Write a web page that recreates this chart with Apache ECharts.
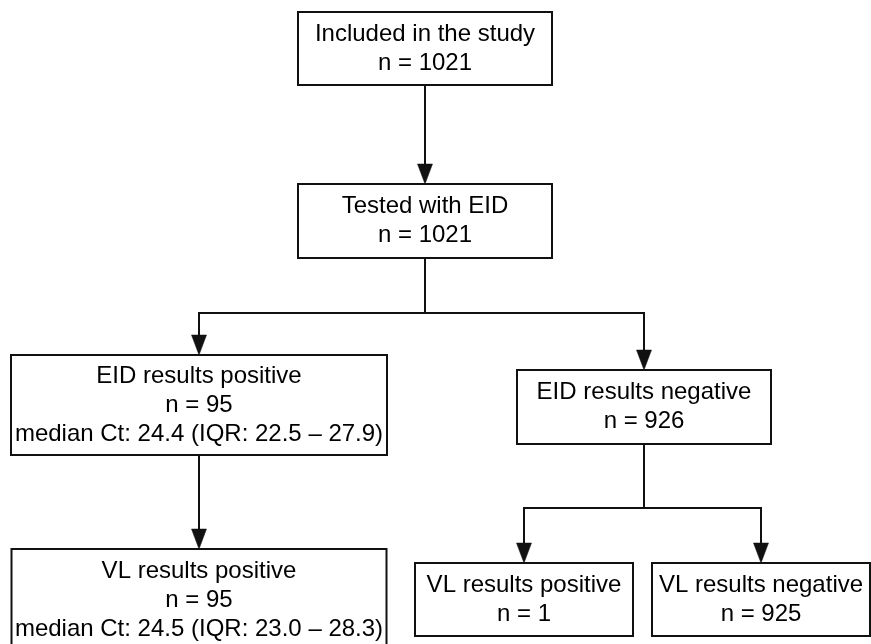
<!DOCTYPE html>
<html>
<head>
<meta charset="utf-8">
<script src="https://cdn.jsdelivr.net/npm/echarts@6/dist/echarts.min.js"></script>
<style>
  html, body { margin: 0; padding: 0; background: #ffffff; }
  #chart { width: 871px; height: 644px; }
</style>
</head>
<body>
<div id="chart"></div>
<script>
// ---- Data ----
const boxTitles = [
  'Included in the study',
  'Tested with EID',
  'EID results positive',
  'EID results negative',
  'VL results positive',
  'VL results positive',
  'VL results negative'
];
const boxCounts = [1021, 1021, 95, 926, 95, 1, 925];
const medianCt = [null, null, 24.4, null, 24.5, null, null];
const iqrLow   = [null, null, 22.5, null, 23.0, null, null];
const iqrHigh  = [null, null, 27.9, null, 28.3, null, null];
// parent -> child flow
const links = [[0, 1], [1, 2], [1, 3], [2, 4], [3, 5], [3, 6]];

// ---- Layout (diagram coordinates) ----
const boxCx  = [425, 425, 199, 644, 199, 524, 761];
const boxTop = [12, 184, 355, 370, 549, 563, 563];
const boxW   = [254, 254, 376, 254, 375, 218, 218];
const boxH   = [73, 74, 100, 74, 102, 73, 73];
const branchY = { 1: 313, 3: 508 };

const INK = '#111111';
const FONT = '24px "Liberation Sans", Arial, sans-serif';
const LINE_H = 29;

function boxLines(i) {
  const lines = [boxTitles[i], 'n = ' + boxCounts[i]];
  if (medianCt[i] != null) {
    lines.push('median Ct: ' + medianCt[i].toFixed(1) + ' (IQR: ' +
      iqrLow[i].toFixed(1) + ' \u2013 ' + iqrHigh[i].toFixed(1) + ')');
  }
  return lines;
}

const chart = echarts.init(document.getElementById('chart'), null, { renderer: 'canvas' });

const option = {
  backgroundColor: '#ffffff',
  animation: false,
  grid: { left: 0, right: 0, top: 0, bottom: 0 },
  xAxis: { type: 'value', min: 0, max: 871, show: false },
  yAxis: { type: 'value', min: 0, max: 644, inverse: true, show: false },
  series: [
    {
      type: 'custom',
      name: 'connectors',
      clip: false,
      data: links.map((l, k) => [boxCx[l[1]], boxTop[l[1]], k]),
      renderItem: function (params, api) {
        const k = api.value(2);
        const p = links[k][0], c = links[k][1];
        const pBottom = boxTop[p] + boxH[p];
        const by = branchY[p] != null ? branchY[p] : null;
        const children = [];
        let pts;
        if (by != null) {
          pts = [api.coord([boxCx[p], pBottom]), api.coord([boxCx[p], by]),
                 api.coord([boxCx[c], by]), api.coord([boxCx[c], boxTop[c]])];
        } else {
          pts = [api.coord([boxCx[p], pBottom]), api.coord([boxCx[c], boxTop[c]])];
        }
        const tip = api.coord([boxCx[c], boxTop[c]]);
        const last = pts.slice();
        last[last.length - 1] = [tip[0], tip[1] - 18];
        children.push({
          type: 'polyline',
          shape: { points: last },
          style: { stroke: INK, lineWidth: 2, fill: null }
        });
        children.push({
          type: 'polygon',
          shape: { points: [[tip[0] - 7.5, tip[1] - 20], [tip[0] + 7.5, tip[1] - 20], [tip[0], tip[1]]] },
          style: { fill: INK, stroke: INK, lineWidth: 0.5 }
        });
        return { type: 'group', children: children };
      }
    },
    {
      type: 'custom',
      name: 'boxes',
      clip: false,
      data: boxTitles.map((t, i) => [boxCx[i], boxTop[i], i]),
      renderItem: function (params, api) {
        const i = api.value(2);
        const tl = api.coord([boxCx[i] - boxW[i] / 2, boxTop[i]]);
        const br = api.coord([boxCx[i] + boxW[i] / 2, boxTop[i] + boxH[i]]);
        const children = [{
          type: 'rect',
          shape: { x: tl[0], y: tl[1], width: br[0] - tl[0], height: br[1] - tl[1] },
          style: { fill: '#ffffff', stroke: INK, lineWidth: 2 }
        }];
        const lines = boxLines(i);
        const cy = (tl[1] + br[1]) / 2;
        const cx = (tl[0] + br[0]) / 2;
        lines.forEach((s, j) => {
          children.push({
            type: 'text',
            style: {
              text: s, x: cx, y: cy + (j - (lines.length - 1) / 2) * LINE_H,
              align: 'center', verticalAlign: 'middle',
              font: FONT, fill: '#000000'
            }
          });
        });
        return { type: 'group', children: children };
      }
    }
  ]
};
chart.setOption(option);
</script>
</body>
</html>
